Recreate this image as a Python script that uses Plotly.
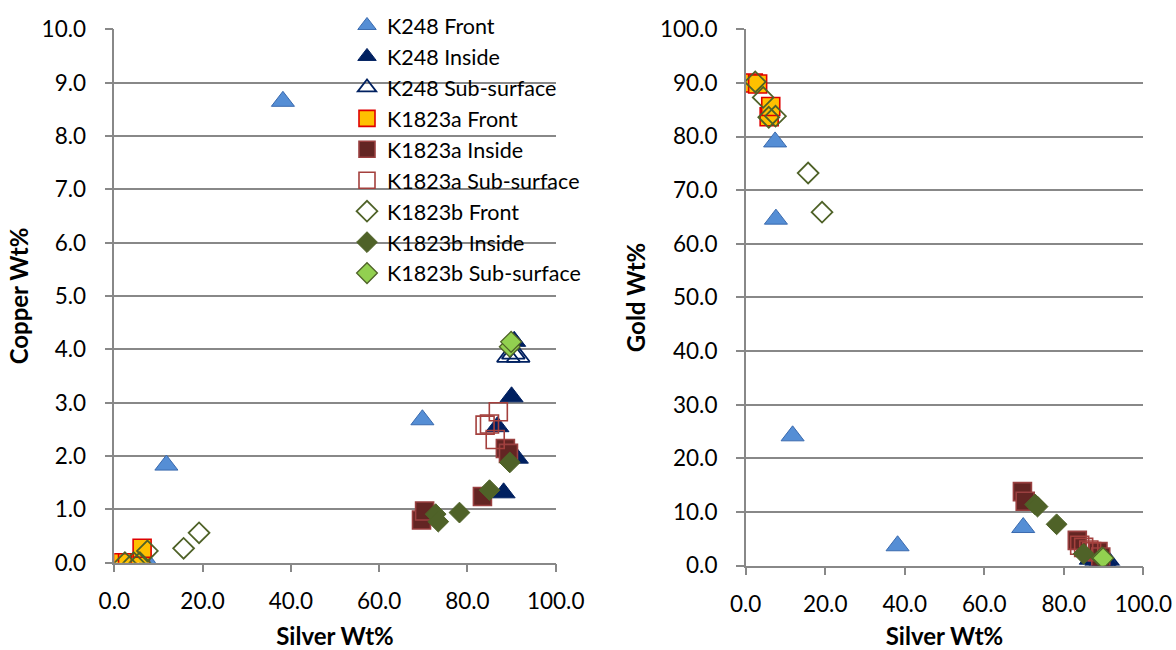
import plotly.graph_objects as go

# ---- data (Silver, Copper, Gold Wt%) ----
series_names = ["K248 Front", "K248 Inside", "K248 Sub-surface",
                "K1823a Front", "K1823a Inside", "K1823a Sub-surface",
                "K1823b Front", "K1823b Inside", "K1823b Sub-surface"]

k248_front_ag = [7.4, 7.6, 11.8, 38.2, 69.8]
k248_front_cu = [0.0, 0.0, 1.83, 8.65, 2.68]
k248_front_au = [79.0, 64.6, 24.2, 3.7, 7.1]

k248_inside_ag = [90.6, 90.0, 86.8, 91.2, 88.2]
k248_inside_cu = [4.15, 3.11, 2.55, 1.96, 1.31]
k248_inside_au = [0.6, 0.8, 1.2, 0.5, 0.9]

k248_sub_ag = [89.3, 90.4, 91.5]
k248_sub_cu = [3.86, 3.92, 3.86]
k248_sub_au = [0.8, 0.6, 0.5]

k1823a_front_ag = [1.9, 3.0, 5.9, 6.3]
k1823a_front_cu = [0.0, 0.0, 0.0, 0.27]
k1823a_front_au = [90.0, 89.8, 83.7, 85.6]

k1823a_inside_ag = [69.6, 70.3, 83.4, 88.6, 89.3]
k1823a_inside_cu = [0.80, 0.97, 1.24, 2.14, 2.05]
k1823a_inside_au = [13.8, 12.0, 4.7, 2.6, 1.6]

k1823a_sub_ag = [84.0, 85.0, 87.0, 86.3]
k1823a_sub_cu = [2.58, 2.60, 2.83, 2.31]
k1823a_sub_au = [3.8, 3.4, 2.6, 2.9]

k1823b_front_ag = [2.4, 4.4, 5.8, 7.5, 15.7, 19.2]
k1823b_front_cu = [0.0, 0.0, 0.0, 0.22, 0.27, 0.56]
k1823b_front_au = [90.2, 87.3, 83.6, 83.8, 73.2, 65.9]

k1823b_inside_ag = [72.8, 73.4, 78.2, 85.0, 89.6]
k1823b_inside_cu = [0.91, 0.77, 0.94, 1.36, 1.88]
k1823b_inside_au = [11.4, 11.0, 7.7, 2.2, 1.3]

k1823b_sub_ag = [89.6, 89.9]
k1823b_sub_cu = [4.05, 4.14]
k1823b_sub_au = [1.5, 1.4]

silver = [k248_front_ag, k248_inside_ag, k248_sub_ag, k1823a_front_ag, k1823a_inside_ag,
          k1823a_sub_ag, k1823b_front_ag, k1823b_inside_ag, k1823b_sub_ag]
copper = [k248_front_cu, k248_inside_cu, k248_sub_cu, k1823a_front_cu, k1823a_inside_cu,
          k1823a_sub_cu, k1823b_front_cu, k1823b_inside_cu, k1823b_sub_cu]
gold = [k248_front_au, k248_inside_au, k248_sub_au, k1823a_front_au, k1823a_inside_au,
        k1823a_sub_au, k1823b_front_au, k1823b_inside_au, k1823b_sub_au]

# ---- styles ----
styles = [
    dict(symbol="triangle-up", size=20, color="#558ED5", line=dict(color="#3A6AAE", width=1)),
    dict(symbol="triangle-up", size=20, color="#002060", line=dict(color="#002060", width=1)),
    dict(symbol="triangle-up-open", size=20, color="#002060", line=dict(color="#002060", width=1.8)),
    dict(symbol="square", size=18, color="#FFC000", line=dict(color="#E00000", width=1.6)),
    dict(symbol="square", size=18, color="#632523", line=dict(color="#9A4040", width=1.6)),
    dict(symbol="square-open", size=18, color="#A4403D", line=dict(color="#A4403D", width=1.6)),
    dict(symbol="diamond-open", size=16, color="#4F6228", line=dict(color="#4F6228", width=1.8)),
    dict(symbol="diamond", size=16, color="#4F6228", line=dict(color="#4F6228", width=1)),
    dict(symbol="diamond", size=16, color="#92D050", line=dict(color="#4F6228", width=1.3)),
]

FONT = "Lato"
fig = go.Figure()
for i, name in enumerate(series_names):
    fig.add_trace(go.Scatter(x=silver[i], y=copper[i], mode="markers", name=name,
                             marker=styles[i], xaxis="x", yaxis="y", legendgroup=name))
for i, name in enumerate(series_names):
    fig.add_trace(go.Scatter(x=silver[i], y=gold[i], mode="markers", name=name,
                             marker=styles[i], xaxis="x2", yaxis="y2", legendgroup=name,
                             showlegend=False))

W, H = 1176, 650
axis_common = dict(showline=True, linecolor="#888888", linewidth=1.5,
                   ticks="outside", ticklen=8, tickcolor="#888888", tickwidth=1.5,
                   tickformat=".1f", zeroline=False, automargin=False,
                   tickfont=dict(family=FONT, size=22.5, color="black"))
title_font = dict(family=FONT, size=24, color="black")

fig.update_layout(
    template="none",
    width=W, height=H, margin=dict(l=0, r=0, t=0, b=0, autoexpand=False),
    paper_bgcolor="white", plot_bgcolor="white",
    font=dict(family=FONT, color="black"),
    xaxis=dict(domain=[114.3 / W, 555.7 / W], range=[0, 100], dtick=20, showgrid=False,
               anchor="y", ticklabelstandoff=10,
               title=dict(text="<b>Silver Wt%</b>", font=title_font, standoff=15),
               **axis_common),
    yaxis=dict(domain=[(H - 562.7) / H, (H - 29.3) / H], range=[0, 10], dtick=1,
               showgrid=True, gridcolor="#888888", gridwidth=1.5, anchor="x",
               ticklabelstandoff=14,
               title=dict(text="<b>Copper Wt%</b>", font=title_font, standoff=6),
               **axis_common),
    xaxis2=dict(domain=[745.7 / W, 1143.3 / W], range=[0, 100], dtick=20, showgrid=False,
                anchor="y2", ticklabelstandoff=10,
                title=dict(text="<b>Silver Wt%</b>", font=title_font, standoff=15),
                **axis_common),
    yaxis2=dict(domain=[(H - 565.6) / H, (H - 29.3) / H], range=[0, 100], dtick=10,
                showgrid=True, gridcolor="#888888", gridwidth=1.5, anchor="x2",
                ticklabelstandoff=14,
                title=dict(text="<b>Gold Wt%</b>", font=title_font, standoff=8),
                **axis_common),
    legend=dict(x=347 / W, y=1 - 5 / H, xanchor="left", yanchor="top",
                bgcolor="rgba(0,0,0,0)", borderwidth=0,
                font=dict(family=FONT, size=21.5, color="black"), tracegroupgap=0),
    showlegend=True,
)

fig.write_html("out.html")
